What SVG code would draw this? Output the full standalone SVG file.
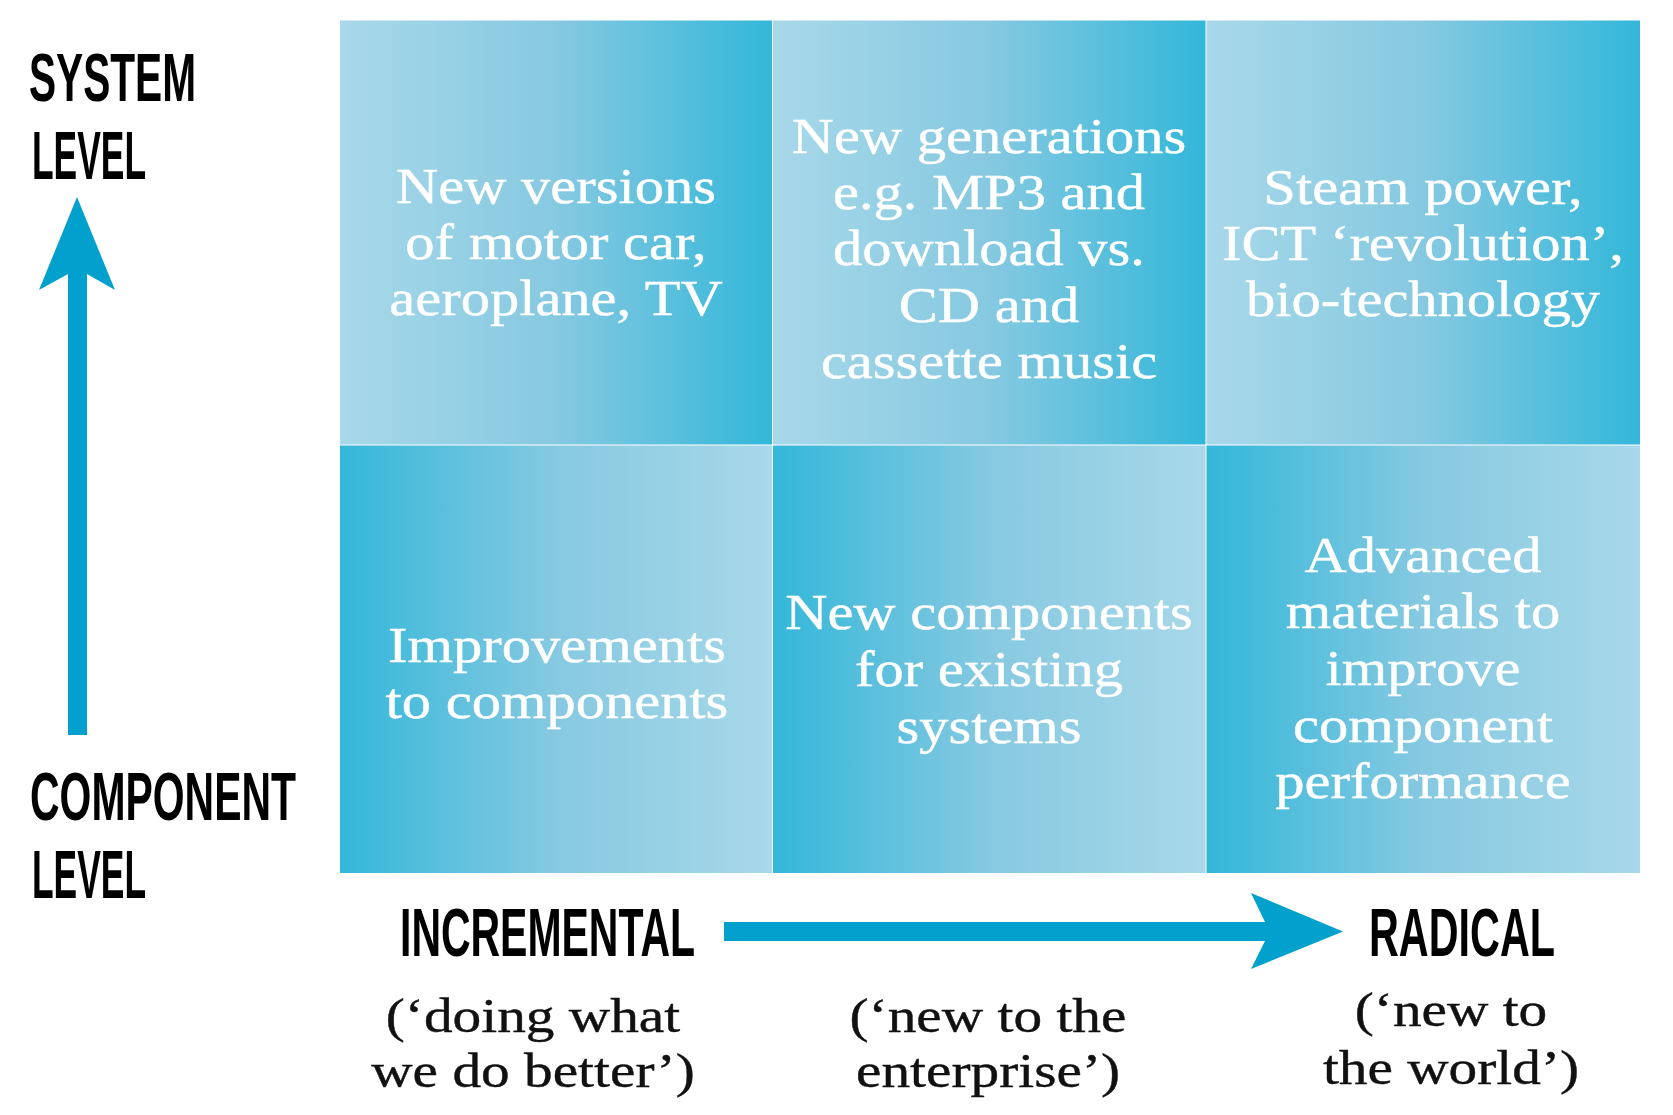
<svg xmlns="http://www.w3.org/2000/svg" width="1673" height="1115" viewBox="0 0 1673 1115">
  <defs>
    <linearGradient id="gTop" x1="0" y1="0" x2="1" y2="0">
      <stop offset="0" stop-color="#a8d8e9"/>
      <stop offset="0.5" stop-color="#86c9e1"/>
      <stop offset="1" stop-color="#33b7d9"/>
    </linearGradient>
    <linearGradient id="gBot" x1="0" y1="0" x2="1" y2="0">
      <stop offset="0" stop-color="#33b7d9"/>
      <stop offset="0.5" stop-color="#86c9e1"/>
      <stop offset="1" stop-color="#a8d8e9"/>
    </linearGradient>
    <style>
      .cell-top { fill: url(#gTop); }
      .cell-bot { fill: url(#gBot); }
      .cell-text { font-family: "Liberation Serif", "Times New Roman", serif; font-size: 50px; fill: #ffffff; text-anchor: middle; stroke: #ffffff; stroke-width: 0.4px; }
      .sub-text { font-family: "Liberation Serif", "Times New Roman", serif; font-size: 49px; fill: #111111; text-anchor: middle; stroke: #111111; stroke-width: 0.4px; }
      .axis-label { font-family: "Liberation Sans", Arial, sans-serif; font-weight: bold; font-size: 68px; fill: #000000; }
      .arrow { fill: #02a0cd; }
    </style>
  </defs>
  <rect width="1673" height="1115" fill="#ffffff"/>

  <g id="cell-system-incremental">
    <rect class="cell-top" x="340" y="20.5" width="432" height="424"/>
    <g transform="translate(556,0) scale(1.17,1)">
      <text class="cell-text" x="0" y="203">New versions</text>
      <text class="cell-text" x="0" y="259">of motor car,</text>
      <text class="cell-text" x="0" y="315">aeroplane, TV</text>
    </g>
  </g>
  <g id="cell-system-enterprise">
    <rect class="cell-top" x="773" y="20.5" width="432.5" height="424"/>
    <g transform="translate(989,0) scale(1.17,1)">
      <text class="cell-text" x="0" y="153">New generations</text>
      <text class="cell-text" x="0" y="209">e.g. MP3 and</text>
      <text class="cell-text" x="0" y="265">download vs.</text>
      <text class="cell-text" x="0" y="322">CD and</text>
      <text class="cell-text" x="0" y="378">cassette music</text>
    </g>
  </g>
  <g id="cell-system-radical">
    <rect class="cell-top" x="1206.5" y="20.5" width="433.5" height="424"/>
    <g transform="translate(1423,0) scale(1.17,1)">
      <text class="cell-text" x="0" y="204">Steam power,</text>
      <text class="cell-text" x="0" y="260">ICT ‘revolution’,</text>
      <text class="cell-text" x="0" y="316">bio-technology</text>
    </g>
  </g>
  <g id="cell-component-incremental">
    <rect class="cell-bot" x="340" y="445.5" width="432" height="427.5"/>
    <g transform="translate(557,0) scale(1.17,1)">
      <text class="cell-text" x="0" y="662">Improvements</text>
      <text class="cell-text" x="0" y="718">to components</text>
    </g>
  </g>
  <g id="cell-component-enterprise">
    <rect class="cell-bot" x="773" y="445.5" width="432.5" height="427.5"/>
    <g transform="translate(989,0) scale(1.17,1)">
      <text class="cell-text" x="0" y="629">New components</text>
      <text class="cell-text" x="0" y="686">for existing</text>
      <text class="cell-text" x="0" y="743">systems</text>
    </g>
  </g>
  <g id="cell-component-radical">
    <rect class="cell-bot" x="1206.5" y="445.5" width="433.5" height="427.5"/>
    <g transform="translate(1423,0) scale(1.17,1)">
      <text class="cell-text" x="0" y="572">Advanced</text>
      <text class="cell-text" x="0" y="628">materials to</text>
      <text class="cell-text" x="0" y="685">improve</text>
      <text class="cell-text" x="0" y="742">component</text>
      <text class="cell-text" x="0" y="798">performance</text>
    </g>
  </g>

  <g id="label-system-level">
    <text class="axis-label" x="29" y="101" textLength="167" lengthAdjust="spacingAndGlyphs">SYSTEM</text>
    <text class="axis-label" x="32" y="179" textLength="114" lengthAdjust="spacingAndGlyphs">LEVEL</text>
  </g>
  <g id="label-component-level">
    <text class="axis-label" x="30" y="820" textLength="266" lengthAdjust="spacingAndGlyphs">COMPONENT</text>
    <text class="axis-label" x="32" y="898" textLength="114" lengthAdjust="spacingAndGlyphs">LEVEL</text>
  </g>
  <g id="label-incremental">
    <text class="axis-label" x="400" y="956" font-size="67" textLength="295" lengthAdjust="spacingAndGlyphs">INCREMENTAL</text>
    <g transform="translate(533,0) scale(1.17,1)">
      <text class="sub-text" x="0" y="1032">(‘doing what</text>
      <text class="sub-text" x="0" y="1087">we do better’)</text>
    </g>
  </g>
  <g id="label-enterprise">
    <g transform="translate(988,0) scale(1.17,1)">
      <text class="sub-text" x="0" y="1032">(‘new to the</text>
      <text class="sub-text" x="0" y="1087">enterprise’)</text>
    </g>
  </g>
  <g id="label-radical">
    <text class="axis-label" x="1369" y="956" font-size="67" textLength="186" lengthAdjust="spacingAndGlyphs">RADICAL</text>
    <g transform="translate(1451,0) scale(1.17,1)">
      <text class="sub-text" x="0" y="1026">(‘new to</text>
      <text class="sub-text" x="0" y="1084">the world’)</text>
    </g>
  </g>

  <g id="connectors">
    <path class="arrow" d="M68,735 L68,274 L39,290 L77,197 L115,290 L87,274 L87,735 Z"/>
    <path class="arrow" d="M724,922 L1265,922 L1251,893 L1343,931.5 L1251,969 L1265,941 L724,941 Z"/>
  </g>
</svg>
